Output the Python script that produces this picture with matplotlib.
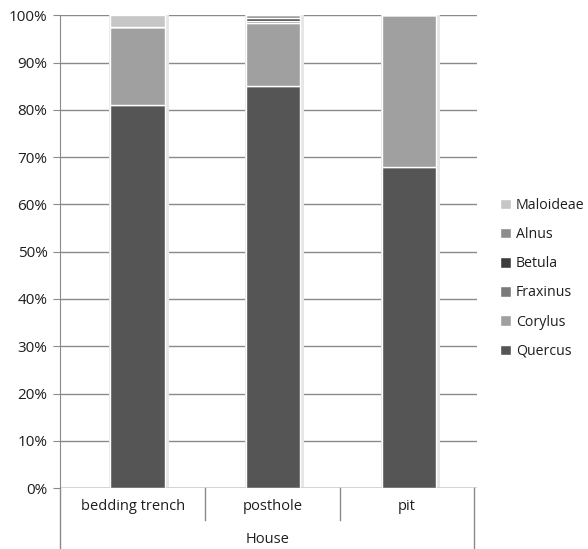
import matplotlib
matplotlib.use("agg")
import matplotlib.pyplot as plt
from matplotlib.patches import Patch
import numpy as np

plt.rcParams['font.family'] = ['Open Sans', 'DejaVu Sans']

categories = ["bedding trench", "posthole", "pit"]
group_label = "House"
taxa = ["Quercus", "Corylus", "Fraxinus", "Betula", "Alnus", "Maloideae"]
quercus = [81.0, 85.0, 68.0]
corylus = [16.5, 13.3, 32.0]
fraxinus = [0.0, 0.6, 0.0]
betula = [0.0, 0.6, 0.0]
alnus = [0.0, 0.5, 0.0]
maloideae = [2.5, 0.0, 0.0]
colors = ["#555555", "#a0a0a0", "#7a7a7a", "#3c3c3c", "#8c8c8c", "#c6c6c6"]
yticks = np.arange(0, 101, 10)

series = [quercus, corylus, fraxinus, betula, alnus, maloideae]

fig = plt.figure(figsize=(5.88, 5.49), dpi=100)
ax = fig.add_axes([0.102, 0.111, 0.709, 0.861])

x = np.arange(len(categories))
width = 0.4
bottom = np.zeros(len(categories))
for vals, col in zip(series, colors):
    vals = np.array(vals)
    ax.bar(x, vals, width, bottom=bottom, color=col, edgecolor="white",
           linewidth=1.0, zorder=3)
    bottom += vals
# faint shadow round each column
ax.bar(x + 0.012, bottom, width + 0.035, color="#e6e6e6", zorder=2)

ax.set_xlim(-0.57, 2.5)
ax.set_ylim(0, 100)
ax.set_yticks(yticks)
ax.set_yticklabels([f"{v}%" for v in yticks], fontsize=11, color="#1e1e1e")
ax.yaxis.grid(True, color="#8a8a8a", linewidth=1.0, zorder=0)
ax.tick_params(axis="y", length=5, color="#8a8a8a", pad=4)
ax.set_xticks([])
for s in ["top", "right", "bottom"]:
    ax.spines[s].set_visible(False)
ax.spines["left"].set_color("#8a8a8a")
ax.axhline(0, color="#8a8a8a", linewidth=1.0, zorder=4)

# category separators and group box below the axis
trans = ax.get_xaxis_transform()
for xs in [0.5, 1.49]:
    ax.plot([xs, xs], [0, -0.068], color="#8a8a8a", linewidth=1.0,
            transform=trans, clip_on=False)
for xs in [-0.57, 2.48]:
    ax.plot([xs, xs], [0, -0.13], color="#8a8a8a", linewidth=1.0,
            transform=trans, clip_on=False)
for xc, name in zip([-0.035, 0.995, 1.985], categories):
    ax.text(xc, -0.040, name, transform=trans, ha="center", va="center",
            fontsize=10.5, color="#1e1e1e")
ax.text(0.955, -0.108, group_label, transform=trans, ha="center", va="center",
        fontsize=10.5, color="#1e1e1e")

handles = [Patch(facecolor=c, edgecolor="white", label=t)
           for t, c in zip(taxa, colors)][::-1]
fig.legend(handles=handles, loc="center left", bbox_to_anchor=(0.829, 0.493),
           frameon=False, fontsize=10.2, handlelength=0.75, handleheight=0.75,
           handletextpad=0.35, labelspacing=1.0, labelcolor="#1e1e1e")

fig.savefig("out.png", dpi=100)
